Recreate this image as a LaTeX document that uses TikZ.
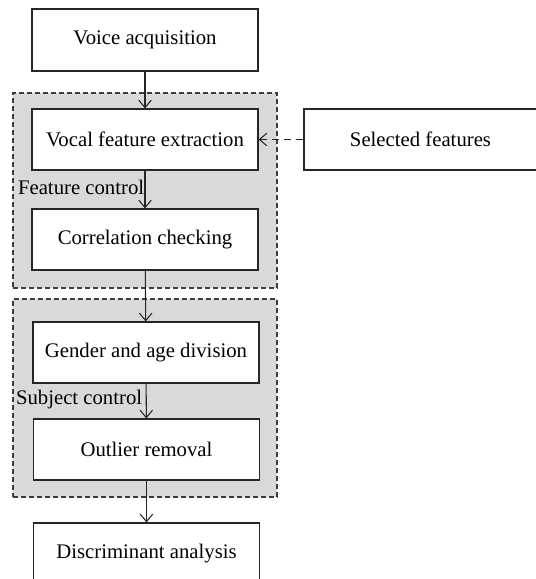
\documentclass[tikz,border=0pt]{standalone}
\usepackage{fontspec}
\setmainfont{Liberation Serif}
\usetikzlibrary{arrows.meta,positioning}
\definecolor{groupgray}{RGB}{217,217,217}
\definecolor{framegray}{RGB}{60,60,60}

\begin{document}
\begin{tikzpicture}[
  font=\fontsize{11.8}{14}\selectfont,
  stage/.style={draw=black!85,fill=white,line width=0.6pt,
    minimum width=4.52cm,minimum height=1.22cm,inner sep=0pt},
  group/.style={draw=framegray,fill=groupgray,line width=0.6pt,
    dash pattern=on 1.0mm off 0.6mm,inner sep=0pt},
  arr/.style={-{Straight Barb[length=1.5mm,width=2.5mm]},line width=0.6pt,
    draw=black!85},
  ctrl/.style={anchor=east,inner sep=0pt}]

\useasboundingbox (0,0) rectangle (10.70,11.58);

% dashed control groups behind the stages
\node[group,minimum width=5.28cm,minimum height=3.90cm] (featgrp)
  at (2.90,7.77) {};
\node[group,minimum width=5.28cm,minimum height=3.96cm] (subjgrp)
  at (2.90,3.62) {};

\node[stage,minimum height=1.24cm] (voice) at (2.90,10.78) {Voice acquisition};
\node[stage] (vocal) at (2.90,8.79) {Vocal feature extraction};
\node[stage] (corr) at (2.90,6.79) {Correlation checking};
\node[stage,minimum width=4.66cm] (selected) at (8.41,8.79) {Selected features};
\node[stage] (gender) at (2.92,4.53) {Gender and age division};
\node[stage] (outlier) at (2.93,2.59) {Outlier removal};
\node[stage] (discr) at (2.93,0.51) {Discriminant analysis};

\node[ctrl] (featlbl) at (2.89,7.84) {Feature control};
\node[ctrl] (subjlbl) at (2.85,3.58) {Subject control};

\draw[arr] (voice) -- (vocal);
\draw[arr] (vocal) -- (corr);
\draw[arr] (corr) -- (gender);
\draw[arr] (gender) -- (outlier);
\draw[arr] (outlier) -- (discr);
% feature list feeds back into the extraction
\draw[arr,dash pattern=on 1.4mm off 1.0mm] (selected) -- (vocal);
\end{tikzpicture}
\end{document}
